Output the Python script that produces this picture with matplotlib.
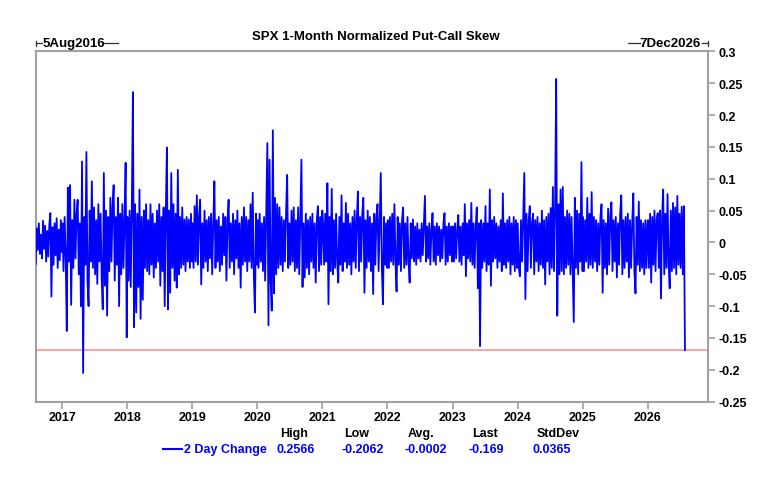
import numpy as np
import pandas as pd
import matplotlib

matplotlib.use("Agg")
import matplotlib.pyplot as plt  # noqa: E402
import matplotlib.dates as mdates  # noqa: E402
from matplotlib.lines import Line2D  # noqa: E402

plt.rcParams["font.family"] = ["Liberation Sans", "DejaVu Sans"]

W, H = 775, 481

# 2-day change (roughly evenly spaced in time)
chg_2016 = [-0.034, 0.022, -0.012, 0.030, -0.018, 0.012, -0.025, 0.034, -0.010, 0.026,
            -0.030, 0.018, -0.022, 0.028, 0.046, -0.085, 0.024, -0.035, 0.030, -0.020,
            0.038, -0.040, 0.020, -0.028, 0.035, -0.015]
chg_2017 = [0.030, -0.045, 0.040, -0.020, -0.139, 0.086, -0.030, 0.090, -0.098, 0.035,
            -0.040, 0.067, -0.025, 0.045, 0.067, -0.050, 0.030, -0.100, 0.127, -0.205,
            0.040, -0.035, 0.142, -0.060, -0.100, 0.050, -0.030, 0.096, -0.040, 0.055,
            -0.050, 0.035, -0.065, 0.060, -0.030, 0.045, -0.055, -0.105, 0.109, -0.068,
            0.050, -0.115, 0.040, -0.045, 0.070, -0.030, 0.055, 0.090, -0.060, 0.040,
            -0.035, 0.070, -0.100, 0.045, -0.050, 0.060, -0.040, 0.035, 0.125, -0.149]
chg_2018 = [0.040, -0.060, 0.050, -0.070, 0.055, 0.236, -0.133, 0.060, -0.110, 0.045,
            -0.070, 0.083, -0.120, 0.040, -0.090, 0.050, -0.040, 0.060, -0.045, 0.035,
            -0.050, 0.060, -0.035, 0.045, -0.055, 0.030, -0.040, 0.050, -0.030, 0.060,
            -0.068, 0.040, -0.045, 0.055, -0.100, 0.045, 0.149, -0.105, 0.050, -0.079,
            0.109, -0.040, 0.060, -0.060, 0.045, -0.071, 0.114, -0.050, 0.040, -0.040,
            0.055, -0.035, 0.036, -0.045, 0.040, -0.030, 0.036, -0.040, 0.045, -0.030]
chg_2019 = [0.030, -0.040, 0.057, -0.030, 0.074, -0.035, 0.040, 0.067, -0.066, 0.030,
            -0.040, 0.050, -0.030, 0.035, -0.045, 0.040, -0.025, 0.045, -0.050, 0.030,
            0.096, -0.040, 0.035, -0.030, 0.040, -0.045, 0.025, -0.035, 0.045, -0.020,
            0.040, -0.060, 0.035, 0.067, -0.040, 0.030, -0.030, 0.045, -0.050, 0.035,
            -0.025, 0.050, -0.040, 0.030, -0.071, 0.040, -0.035, 0.055, -0.030, 0.040,
            -0.045, 0.035, -0.030, 0.060, -0.040, 0.078, -0.050, -0.110, 0.045, -0.035]
chg_2020 = [0.035, -0.040, 0.045, -0.030, 0.030, -0.045, 0.040, -0.060, 0.050, 0.156,
            -0.130, 0.130, -0.060, -0.107, 0.176, -0.080, 0.070, -0.050, 0.060, -0.040,
            0.055, -0.035, 0.040, -0.045, 0.035, -0.030, 0.045, 0.106, -0.040, 0.030,
            -0.035, 0.050, -0.030, 0.055, -0.045, 0.035, -0.040, 0.055, -0.050, 0.040,
            0.130, -0.070, 0.030, -0.055, 0.045, -0.040, 0.035, -0.050, 0.040, -0.030,
            0.045, -0.040, 0.030, -0.063, 0.035, 0.057, -0.045, 0.040, -0.035, 0.050]
chg_2021 = [0.030, -0.035, 0.045, -0.030, 0.093, -0.097, 0.040, -0.045, 0.084, -0.050,
            0.035, -0.040, 0.045, -0.030, -0.063, 0.040, -0.035, 0.074, -0.045, 0.030,
            -0.030, 0.062, -0.040, 0.045, -0.035, 0.030, -0.050, 0.040, -0.030, 0.050,
            -0.040, 0.035, 0.080, -0.045, 0.040, -0.030, 0.045, 0.070, -0.079, 0.035,
            -0.040, 0.050, -0.030, 0.040, -0.045, 0.030, -0.081, 0.045, -0.035, 0.040,
            0.060, -0.045, 0.035, 0.109, -0.040, -0.097, 0.040, -0.035, 0.030, -0.040]
chg_2022 = [0.035, -0.040, 0.040, -0.030, 0.045, -0.035, 0.060, -0.030, -0.077, 0.040,
            -0.035, 0.030, -0.045, 0.035, 0.055, -0.040, 0.030, -0.035, 0.040, -0.030,
            -0.063, 0.030, -0.025, 0.036, -0.030, 0.025, -0.035, 0.030, -0.025, 0.020,
            -0.030, 0.030, -0.020, 0.025, 0.073, -0.030, 0.025, -0.025, 0.030, -0.035,
            0.020, 0.046, -0.030, 0.025, -0.035, 0.030, -0.020, 0.025, -0.030, 0.020,
            -0.025, 0.030, 0.046, -0.035, 0.025, -0.030, 0.030, -0.020, 0.025, -0.030]
chg_2023 = [0.025, -0.030, 0.030, -0.025, 0.020, 0.043, -0.030, 0.025, -0.035, 0.030,
            -0.020, 0.060, -0.053, 0.030, -0.025, 0.035, -0.030, 0.062, -0.035, 0.030,
            -0.040, 0.025, 0.055, -0.072, 0.030, -0.163, 0.035, -0.040, 0.030, -0.030,
            0.057, -0.045, 0.030, -0.035, 0.083, -0.068, 0.035, -0.030, 0.040, -0.025,
            0.030, -0.040, 0.025, -0.030, 0.035, -0.045, 0.077, -0.035, 0.030, -0.040,
            0.035, -0.030, 0.040, -0.050, 0.030, -0.035, 0.040, -0.045, 0.035, -0.040]
chg_2024 = [0.030, -0.040, -0.053, 0.035, -0.030, 0.040, 0.109, -0.089, 0.045, -0.045,
            0.035, 0.057, -0.040, 0.030, 0.045, -0.050, 0.035, -0.030, 0.040, -0.045,
            0.030, -0.035, 0.050, -0.040, 0.035, -0.066, 0.040, -0.030, 0.045, -0.050,
            0.054, -0.040, 0.087, -0.045, 0.050, 0.2566, -0.115, 0.060, -0.050, 0.083,
            -0.045, 0.087, -0.050, 0.040, -0.040, 0.050, -0.035, 0.045, -0.050, 0.040,
            -0.045, -0.125, 0.070, -0.040, 0.050, -0.050, 0.045, -0.030, 0.126, -0.045]
chg_2025 = [0.040, -0.045, 0.035, -0.030, 0.070, -0.040, 0.045, -0.035, 0.079, -0.040,
            0.040, -0.030, 0.035, -0.045, 0.030, -0.035, 0.040, 0.060, -0.079, 0.035,
            -0.040, 0.030, -0.050, 0.053, -0.035, 0.040, 0.063, -0.045, 0.035, -0.030,
            0.040, -0.055, 0.030, -0.035, 0.045, 0.074, -0.050, 0.035, -0.040, 0.040,
            -0.030, 0.045, -0.055, 0.035, -0.040, 0.030, 0.077, -0.045, -0.080, 0.040,
            -0.035, 0.064, -0.045, 0.035, -0.040, 0.030, -0.050, 0.035, -0.040, 0.030]
chg_2026 = [0.035, -0.040, 0.045, -0.063, 0.040, -0.035, 0.050, -0.045, 0.035, 0.046,
            -0.040, 0.050, -0.088, 0.040, 0.083, -0.050, 0.045, -0.040, 0.076, -0.035,
            -0.072, 0.050, -0.045, 0.062, -0.040, 0.055, -0.050, 0.073, -0.035, 0.045,
            -0.040, 0.056, -0.050, 0.057, -0.169]

segments = [
    ("2016-08-05", "2016-12-30", chg_2016),
    ("2017-01-02", "2017-12-29", chg_2017),
    ("2018-01-02", "2018-12-31", chg_2018),
    ("2019-01-02", "2019-12-31", chg_2019),
    ("2020-01-02", "2020-12-31", chg_2020),
    ("2021-01-04", "2021-12-31", chg_2021),
    ("2022-01-03", "2022-12-30", chg_2022),
    ("2023-01-03", "2023-12-29", chg_2023),
    ("2024-01-02", "2024-12-31", chg_2024),
    ("2025-01-02", "2025-12-31", chg_2025),
    ("2026-01-02", "2026-07-29", chg_2026),
]

stats_names = ["High", "Low", "Avg.", "Last", "StdDev"]
stats_values = ["0.2566", "-0.2062", "-0.0002", "-0.169", "0.0365"]
last_value = -0.169

y_ticks = [0.3, 0.25, 0.2, 0.15, 0.1, 0.05, 0.0, -0.05, -0.1, -0.15, -0.2, -0.25]
y_labels = ["0.3", "0.25", "0.2", "0.15", "0.1", "0.05", "0", "-0.05", "-0.1",
            "-0.15", "-0.2", "-0.25"]
years = list(range(2017, 2027))

dates, vals = [], []
for start, end, v in segments:
    dates.extend(pd.date_range(start, end, periods=len(v)))
    vals.extend(v)


def fx(x):
    return x / W


def fy(y):
    return 1 - y / H


BLUE = "#0000ff"
GRID = "#a0a0a0"

fig = plt.figure(figsize=(W / 100, H / 100), dpi=100)
ax = fig.add_axes([fx(35.7), fy(402.7), fx(708.3) - fx(35.7), fy(52.3) - fy(402.7)])

ax.plot(dates, vals, color=BLUE, lw=1.3, zorder=3)
ax.axhline(last_value, color="#ff9a9a", lw=1.3, zorder=2)

ax.set_xlim(pd.Timestamp("2016-08-05"), pd.Timestamp("2026-12-07"))
ax.set_ylim(-0.25, 0.3)
ax.set_xticks([pd.Timestamp(f"{y}-01-01") for y in years])
ax.xaxis.set_major_formatter(mdates.DateFormatter("%Y"))
ax.set_yticks(y_ticks)
ax.set_yticklabels(y_labels)
ax.yaxis.tick_right()
ax.tick_params(axis="both", direction="out", length=5, width=1.2, color=GRID,
               labelsize=9, pad=2)
for lab in ax.get_xticklabels() + ax.get_yticklabels():
    lab.set_fontweight("bold")
for s in ax.spines.values():
    s.set_color(GRID)
    s.set_linewidth(1.5)

# title and date range markers above the frame
fig.text(fx(375.5), fy(37), "SPX 1-Month Normalized Put-Call Skew", ha="center",
         va="center", fontsize=9.5, fontweight="bold")
fig.text(fx(43), fy(44.3), "5Aug2016", ha="left", va="center", fontsize=9.5,
         fontweight="bold")
fig.text(fx(700.5), fy(44.3), "7Dec2026", ha="right", va="center", fontsize=9.5,
         fontweight="bold")
for x0, x1 in ((35.7, 42), (103.3, 118.3), (627.7, 640), (701.5, 708)):
    fig.add_artist(Line2D([fx(x0), fx(x1)], [fy(44.3), fy(44.3)], color="#303030",
                          lw=0.9))
for xv in (35.7, 708):
    fig.add_artist(Line2D([fx(xv), fx(xv)], [fy(41.5), fy(47)], color="#303030",
                          lw=0.9))

# stats legend below the axis
fig.add_artist(Line2D([fx(163), fx(182)], [fy(450), fy(450)], color=BLUE, lw=1.5))
fig.text(fx(184), fy(450), "2 Day Change", ha="left", va="center", fontsize=9,
         fontweight="bold", color=BLUE)
head_x = [294, 357, 421, 485, 558]
val_x = [296, 362.5, 426, 486.5, 552]
for name, hx in zip(stats_names, head_x):
    fig.text(fx(hx), fy(434), name, ha="center", va="center", fontsize=9,
             fontweight="bold")
for v, vx in zip(stats_values, val_x):
    fig.text(fx(vx), fy(450), v, ha="center", va="center", fontsize=9,
             fontweight="bold", color=BLUE)

fig.savefig("out.png", dpi=100)
